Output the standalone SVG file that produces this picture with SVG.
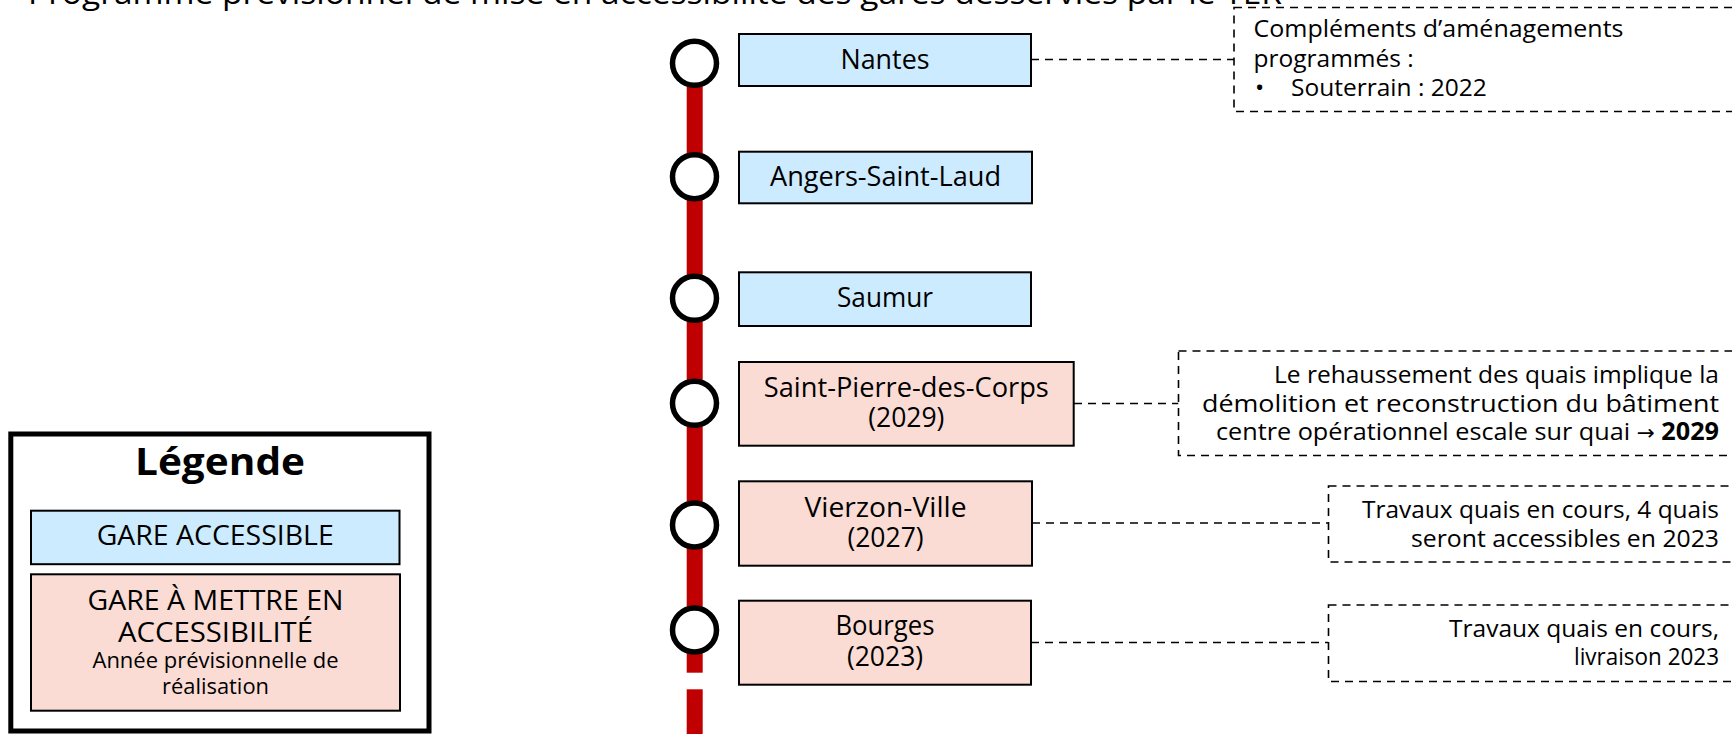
<svg xmlns="http://www.w3.org/2000/svg" width="1732" height="734" viewBox="0 0 1732 734">
<style>
text{font-family:"Open Sans","Noto Sans","Liberation Sans",sans-serif;fill:#000}
.lbl{font-size:26.5px;text-anchor:middle}
.note{font-size:24.5px}
.r{text-anchor:end}
.box{stroke:#000;stroke-width:2}
.blue{fill:#CDEBFE}
.pink{fill:#FADCD5}
.dash{fill:none;stroke:#000;stroke-width:1.6;stroke-dasharray:8 6}
.notebox{fill:#fff;stroke:#000;stroke-width:1.6;stroke-dasharray:8 6}
.stop{fill:#fff;stroke:#000;stroke-width:5.5}
.leg{font-size:26.5px;text-anchor:middle}
</style>
<rect width="1732" height="734" fill="#fff"/>
<text id="title" x="28" y="4" font-size="31" textLength="1254" lengthAdjust="spacingAndGlyphs">Programme prévisionnel de mise en accessibilité des gares desservies par le TER</text>

<g id="line">
<rect x="686.7" y="63" width="16" height="609.7" fill="#C00000"/>
<rect x="686.7" y="689.3" width="16" height="50" fill="#C00000"/>
</g>

<g id="connectors">
<line class="dash" x1="1031" y1="59.5" x2="1234" y2="59.5"/>
<line class="dash" x1="1074" y1="403.5" x2="1178.5" y2="403.5"/>
<line class="dash" x1="1032" y1="523" x2="1328.5" y2="523"/>
<line class="dash" x1="1031" y1="642.5" x2="1328.5" y2="642.5"/>
</g>

<g id="nantes">
<circle class="stop" cx="694.5" cy="63.3" r="22"/>
<rect class="box blue" x="739" y="34" width="292" height="52"/>
<text class="lbl" x="885" y="69" textLength="89" lengthAdjust="spacingAndGlyphs">Nantes</text>
</g>
<g id="angers">
<circle class="stop" cx="694.5" cy="176.7" r="22"/>
<rect class="box blue" x="739" y="151.7" width="293" height="51.6"/>
<text class="lbl" x="885.5" y="185.7" textLength="231" lengthAdjust="spacingAndGlyphs">Angers-Saint-Laud</text>
</g>
<g id="saumur">
<circle class="stop" cx="694.5" cy="298.3" r="22"/>
<rect class="box blue" x="739" y="272.3" width="292" height="53.7"/>
<text class="lbl" x="885" y="307" textLength="96" lengthAdjust="spacingAndGlyphs">Saumur</text>
</g>
<g id="saint-pierre">
<circle class="stop" cx="694.5" cy="403.3" r="22"/>
<rect class="box pink" x="739" y="362" width="334.7" height="83.7"/>
<text class="lbl" x="906.3" y="396.7" textLength="285" lengthAdjust="spacingAndGlyphs">Saint-Pierre-des-Corps</text>
<text class="lbl" x="906.3" y="427">(2029)</text>
</g>
<g id="vierzon">
<circle class="stop" cx="694.5" cy="525" r="22"/>
<rect class="box pink" x="739" y="481.3" width="293" height="84.4"/>
<text class="lbl" x="885.5" y="516.7" textLength="162" lengthAdjust="spacingAndGlyphs">Vierzon-Ville</text>
<text class="lbl" x="885.5" y="547">(2027)</text>
</g>
<g id="bourges">
<circle class="stop" cx="694.5" cy="630" r="22"/>
<rect class="box pink" x="739" y="600.7" width="292" height="84"/>
<text class="lbl" x="885" y="635" textLength="99" lengthAdjust="spacingAndGlyphs">Bourges</text>
<text class="lbl" x="885" y="666">(2023)</text>
</g>

<g id="note-nantes">
<rect class="notebox" x="1234" y="7.5" width="520" height="104"/>
<text class="note" x="1253.5" y="37" textLength="370" lengthAdjust="spacingAndGlyphs">Compléments d’aménagements</text>
<text class="note" x="1253.5" y="66.5">programmés :</text>
<text class="note" x="1255" y="96">•</text>
<text class="note" x="1291" y="96">Souterrain : 2022</text>
</g>
<g id="note-saint-pierre">
<rect class="notebox" x="1178.5" y="351" width="600" height="104.5"/>
<text class="note r" x="1719" y="383" textLength="445" lengthAdjust="spacingAndGlyphs">Le rehaussement des quais implique la</text>
<text class="note r" x="1719" y="411.5" textLength="517" lengthAdjust="spacingAndGlyphs">démolition et reconstruction du bâtiment</text>
<text class="note r" x="1719" y="440" textLength="503" lengthAdjust="spacingAndGlyphs">centre opérationnel escale sur quai <tspan font-family="DejaVu Sans, sans-serif" font-size="21">→</tspan> <tspan font-weight="bold">2029</tspan></text>
</g>
<g id="note-vierzon">
<rect class="notebox" x="1328.5" y="486" width="450" height="76"/>
<text class="note r" x="1719" y="518" textLength="357" lengthAdjust="spacingAndGlyphs">Travaux quais en cours, 4 quais</text>
<text class="note r" x="1719" y="547" textLength="308" lengthAdjust="spacingAndGlyphs">seront accessibles en 2023</text>
</g>
<g id="note-bourges">
<rect class="notebox" x="1328.5" y="605" width="450" height="76.5"/>
<text class="note r" x="1719" y="637" textLength="270" lengthAdjust="spacingAndGlyphs">Travaux quais en cours,</text>
<text class="note r" x="1719" y="665" textLength="145" lengthAdjust="spacingAndGlyphs">livraison 2023</text>
</g>

<g id="legend">
<rect x="10.8" y="434" width="418.2" height="297" fill="#fff" stroke="#000" stroke-width="5"/>
<text x="220" y="475" font-size="37" font-weight="bold" text-anchor="middle" textLength="170" lengthAdjust="spacingAndGlyphs">Légende</text>
<rect class="box blue" x="31" y="510.7" width="368.5" height="53.5"/>
<text class="leg" x="215.2" y="545" textLength="237" lengthAdjust="spacingAndGlyphs">GARE ACCESSIBLE</text>
<rect class="box pink" x="31" y="574.3" width="369" height="136.4"/>
<text class="leg" x="215.5" y="610" textLength="256" lengthAdjust="spacingAndGlyphs">GARE À METTRE EN</text>
<text class="leg" x="215.5" y="641.7" textLength="195" lengthAdjust="spacingAndGlyphs">ACCESSIBILITÉ</text>
<text x="215.5" y="668.3" font-size="21.5" text-anchor="middle" textLength="246" lengthAdjust="spacingAndGlyphs">Année prévisionnelle de</text>
<text x="215.5" y="694" font-size="21.5" text-anchor="middle" textLength="107" lengthAdjust="spacingAndGlyphs">réalisation</text>
</g>
</svg>
